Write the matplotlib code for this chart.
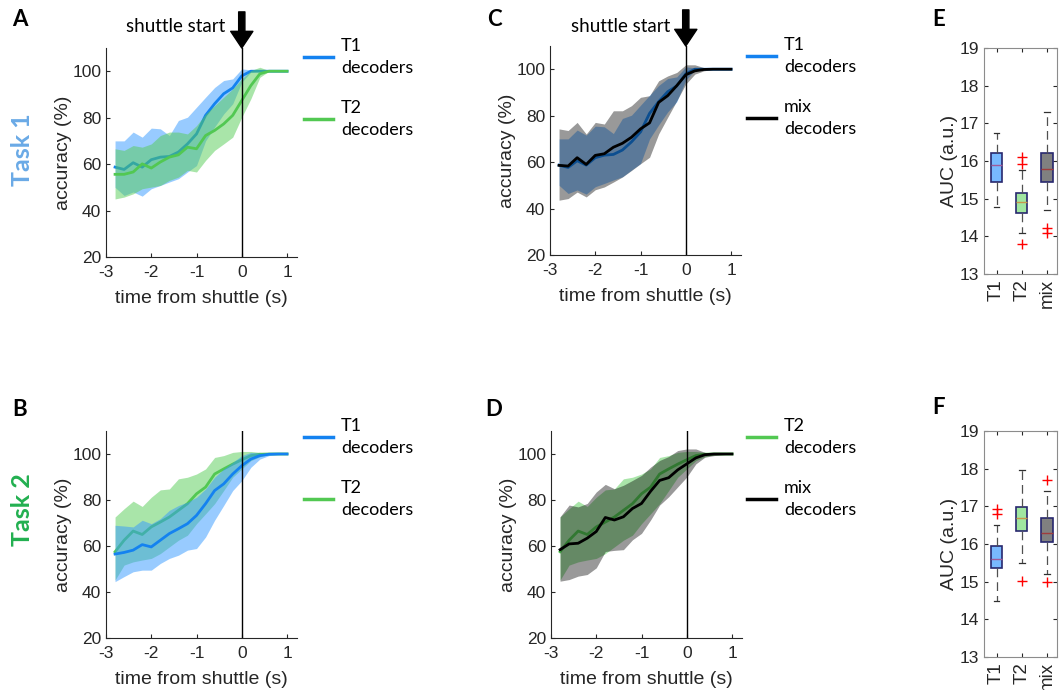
import matplotlib
matplotlib.use('Agg')
import matplotlib.pyplot as plt
from matplotlib.lines import Line2D
import numpy as np

plt.rcParams['font.family'] = ['Liberation Sans', 'DejaVu Sans']
plt.rcParams['axes.unicode_minus'] = False

time_s = np.round(np.arange(-2.8, 1.01, 0.2), 1)

# Task 1, T1 decoders (panels A and C)
t1a_mean = [58.7, 57.7, 60.6, 58.7, 61.9, 63.0, 63.3, 65.2, 68.7, 73.0, 81.0, 86.0, 90.3, 92.8, 98.0, 100, 100, 100, 100, 100]
t1a_hi = [70.0, 70.0, 73.8, 71.6, 75.5, 75.2, 72.3, 78.8, 80.2, 84.5, 88.8, 93.0, 96.0, 96.7, 101.0, 100.6, 100, 100, 100, 100]
t1a_lo = [50.0, 46.5, 48.0, 46.2, 49.4, 50.8, 52.3, 53.7, 56.6, 59.4, 70.0, 76.0, 81.6, 86.0, 95.3, 99.6, 100, 100, 100, 100]
# Task 1, T2 decoders (panel A)
t2a_mean = [55.6, 55.6, 56.6, 60.1, 58.3, 60.9, 63.0, 64.0, 67.3, 66.6, 72.3, 74.5, 77.3, 81.0, 87.4, 93.8, 98.9, 100, 100, 100]
t2a_hi = [66.6, 65.9, 68.0, 67.3, 68.7, 72.3, 73.8, 73.8, 73.0, 76.6, 81.6, 85.2, 88.8, 92.4, 96.7, 100.3, 101.7, 100.3, 100, 100]
t2a_lo = [45.0, 45.8, 47.2, 49.4, 50.1, 50.8, 53.0, 54.4, 57.3, 56.6, 61.6, 65.9, 68.7, 71.6, 80.2, 88.1, 97.4, 100, 100, 100]
# Task 1, mix decoders (panel C)
mixc_mean = [58.6, 58.3, 61.9, 59.0, 62.9, 63.6, 66.4, 68.1, 70.7, 74.3, 76.9, 85.7, 88.6, 92.9, 97.6, 99.3, 99.9, 100, 100, 100]
mixc_hi = [74.3, 73.6, 77.1, 72.1, 77.1, 76.4, 82.1, 82.1, 84.3, 87.9, 88.6, 95.0, 97.1, 98.6, 101.9, 101.9, 100.7, 100, 100, 100]
mixc_lo = [43.6, 44.3, 47.1, 45.0, 48.1, 49.3, 51.4, 53.6, 56.4, 59.3, 62.1, 72.1, 79.3, 86.4, 93.6, 97.9, 99.3, 99.9, 100, 100]

# Task 2, T1 decoders (panel B)
t1b_mean = [56.5, 57.2, 58.2, 60.6, 59.6, 62.5, 65.4, 67.5, 69.7, 73.3, 78.4, 84.1, 87.0, 91.3, 94.9, 97.8, 99.3, 99.9, 100, 100]
t1b_hi = [69.0, 68.7, 68.3, 71.2, 69.7, 71.9, 75.5, 77.6, 79.1, 81.2, 84.8, 89.9, 93.5, 96.4, 99.3, 100.7, 100.4, 100, 100, 100]
t1b_lo = [44.5, 46.7, 48.8, 49.5, 49.5, 52.4, 54.6, 56.0, 58.2, 58.9, 63.9, 71.2, 77.6, 84.1, 88.4, 94.2, 97.8, 99.3, 99.7, 100]
# Task 2, T2 decoders (panels B and D)
t2b_mean = [57.5, 62.5, 66.5, 65.0, 68.3, 70.4, 72.6, 75.5, 78.4, 82.7, 85.6, 91.3, 93.5, 95.6, 97.5, 99.3, 99.9, 100, 100, 100]
t2b_hi = [72.6, 76.2, 79.5, 77.2, 81.2, 84.4, 84.8, 89.2, 89.9, 91.3, 93.5, 98.5, 99.3, 100.7, 101.1, 101.1, 100.7, 100.3, 100, 100]
t2b_lo = [45.2, 51.7, 53.1, 53.9, 54.6, 56.7, 59.6, 62.5, 64.7, 69.7, 74.0, 78.4, 84.1, 89.9, 93.5, 97.1, 98.8, 99.7, 100, 100]
# Task 2, mix decoders (panel D)
mixd_mean = [58.4, 60.9, 61.2, 63.4, 66.3, 72.4, 71.3, 72.7, 76.3, 78.5, 83.8, 88.5, 89.7, 93.1, 95.7, 98.3, 99.7, 100, 100, 100]
mixd_hi = [72.7, 77.8, 77.0, 78.5, 83.5, 86.8, 84.9, 86.4, 88.5, 90.7, 94.3, 97.2, 98.9, 101.5, 102.2, 102.2, 100.7, 100, 100, 100]
mixd_lo = [44.7, 45.4, 46.9, 47.6, 50.5, 57.6, 58.1, 58.4, 62.7, 65.5, 71.3, 77.8, 81.4, 85.7, 90.0, 95.7, 98.6, 99.3, 99.7, 100]

# AUC box plots: (q1, median, q3, whisker low, whisker high, outliers)
box_labels = ['T1', 'T2', 'mix']
auc_task1 = [
    (15.45, 15.90, 16.22, 14.78, 16.75, []),
    (14.63, 14.90, 15.16, 14.10, 15.76, [15.93, 16.10, 13.80]),
    (15.45, 15.80, 16.20, 14.70, 17.30, [14.21, 14.10]),
]
auc_task2 = [
    (15.35, 15.60, 15.94, 14.50, 16.51, [16.80, 16.94]),
    (16.35, 16.69, 16.98, 15.50, 17.96, [15.02]),
    (16.04, 16.30, 16.70, 15.21, 17.42, [17.70, 15.00]),
]

W, H = 1061, 690
fig = plt.figure(figsize=(W / 100, H / 100), dpi=100)


def px(l, t, r, b):
    return [l / W, 1 - b / H, (r - l) / W, (b - t) / H]


BLUE = '#1482f0'
GREEN = '#52c852'
TXT = '#262626'


def line_axes(rect):
    ax = fig.add_axes(px(*rect))
    ax.set_xlim(-3, 1.22)
    ax.set_ylim(20, 110)
    ax.set_xticks([-3, -2, -1, 0, 1])
    ax.set_yticks([20, 40, 60, 80, 100])
    ax.spines['top'].set_visible(False)
    ax.spines['right'].set_visible(False)
    for s in ['left', 'bottom']:
        ax.spines[s].set_color(TXT)
        ax.spines[s].set_linewidth(0.8)
    ax.tick_params(direction='in', length=3, labelsize=12.5, colors=TXT)
    ax.tick_params(axis='x', pad=6)
    ax.set_xlabel('time from shuttle (s)', fontsize=14, color=TXT, labelpad=7)
    ax.set_ylabel('accuracy (%)', fontsize=14, color=TXT, labelpad=0)
    ax.axvline(0, color='black', lw=1.0, zorder=10)
    return ax


def band(ax, lo, hi, mean, fill, alpha, lc, z):
    ax.fill_between(time_s, lo, hi, color=fill, alpha=alpha, lw=0, zorder=z)
    ax.plot(time_s, mean, color=lc, lw=2.0, zorder=z + 1)


def legend(x, y, entries):
    for i, (c, lab) in enumerate(entries):
        yy = y + i * 62
        fig.add_artist(Line2D([x / W, (x + 29) / W], [1 - yy / H, 1 - yy / H],
                              color=c, lw=2.5))
        fig.text((x + 37) / W, 1 - yy / H, lab, fontsize=13, family='Lato',
                 va='center', ha='left', linespacing=1.4, color='black')


axA = line_axes((106, 48, 297, 257))
band(axA, t1a_lo, t1a_hi, t1a_mean, '#3399ff', 0.5, BLUE, 1)
band(axA, t2a_lo, t2a_hi, t2a_mean, '#55cc55', 0.5, GREEN, 3)

axB = line_axes((106, 431, 297, 638))
band(axB, t2b_lo, t2b_hi, t2b_mean, '#55cc55', 0.5, GREEN, 1)
band(axB, t1b_lo, t1b_hi, t1b_mean, '#3399ff', 0.5, BLUE, 3)

axC = line_axes((550, 46, 741, 255))
band(axC, t1a_lo, t1a_hi, t1a_mean, '#3399ff', 0.5, BLUE, 1)
band(axC, mixc_lo, mixc_hi, mixc_mean, 'black', 0.4, 'black', 3)

axD = line_axes((551, 431, 742, 638))
band(axD, t2b_lo, t2b_hi, t2b_mean, '#55cc55', 0.5, GREEN, 1)
band(axD, mixd_lo, mixd_hi, mixd_mean, 'black', 0.4, 'black', 3)

for ax in (axA, axC):
    ax.annotate('', xy=(0, 110), xytext=(0, 26), textcoords='offset points',
                xycoords='data', annotation_clip=False,
                arrowprops=dict(facecolor='black', edgecolor='black', width=4.5,
                                headwidth=16, headlength=12, shrink=0))
fig.text(225 / W, 1 - 27 / H, 'shuttle start', fontsize=13.5, family='Lato',
         ha='right', va='center')
fig.text(670 / W, 1 - 27 / H, 'shuttle start', fontsize=13.5, family='Lato',
         ha='right', va='center')

legend(304, 57, [(BLUE, 'T1\ndecoders'), (GREEN, 'T2\ndecoders')])
legend(304, 437, [(BLUE, 'T1\ndecoders'), (GREEN, 'T2\ndecoders')])
legend(747, 56, [(BLUE, 'T1\ndecoders'), ('black', 'mix\ndecoders')])
legend(747, 437, [(GREEN, 'T2\ndecoders'), ('black', 'mix\ndecoders')])

box_fill = ['#78b9ff', '#a0e6a0', '#808080']
box_med = ['#a05a9a', '#c8964b', '#a03c3c']


def box_axes(rect, data):
    ax = fig.add_axes(px(*rect))
    stats = []
    for lab, (q1, med, q3, lo, hi, out) in zip(box_labels, data):
        stats.append(dict(label=lab, q1=q1, med=med, q3=q3, whislo=lo,
                          whishi=hi, fliers=out))
    parts = ax.bxp(stats, positions=[1, 2, 3], widths=0.45, patch_artist=True,
                   capwidths=0.22,
                   boxprops=dict(edgecolor='#28286e', lw=1.2),
                   whiskerprops=dict(color='#505050', lw=0.9, ls=(0, (7, 4))),
                   capprops=dict(color='#303030', lw=0.9),
                   flierprops=dict(marker='+', markeredgecolor='red',
                                   markersize=7, mew=1.0))
    for p, fc in zip(parts['boxes'], box_fill):
        p.set_facecolor(fc)
    for m, mc in zip(parts['medians'], box_med):
        m.set_color(mc)
        m.set_linewidth(1.0)
    ax.set_xlim(0.5, 3.4)
    ax.set_ylim(13, 19)
    ax.set_yticks(range(13, 20))
    ax.set_xticks([1, 2, 3])
    ax.set_xticklabels(box_labels, rotation=90, fontsize=13.5)
    for s in ax.spines.values():
        s.set_color('#8c8c8c')
        s.set_linewidth(0.8)
    ax.tick_params(direction='in', length=3, labelsize=12.5, colors=TXT,
                   right=True, top=True)
    ax.tick_params(axis='x', labelsize=13.5)
    ax.set_ylabel('AUC (a.u.)', fontsize=14, color=TXT, labelpad=1)
    return ax


box_axes((984, 48, 1057, 274), auc_task1)
box_axes((984, 431, 1057, 657), auc_task2)

for lab, x, y in [('A', 12, 20), ('B', 12, 410), ('C', 487, 20),
                  ('D', 485, 410), ('E', 932, 20), ('F', 932, 407)]:
    fig.text(x / W, 1 - y / H, lab, fontsize=16, fontweight='bold',
             family='Lato', ha='left', va='center')

fig.text(22 / W, 1 - 150 / H, 'Task 1', rotation=90, fontsize=18,
         fontweight='bold', family='Lato', color='#6aaae6', ha='center',
         va='center')
fig.text(22 / W, 1 - 510 / H, 'Task 2', rotation=90, fontsize=18,
         fontweight='bold', family='Lato', color='#22b050', ha='center',
         va='center')

fig.savefig('out.png', dpi=100)
